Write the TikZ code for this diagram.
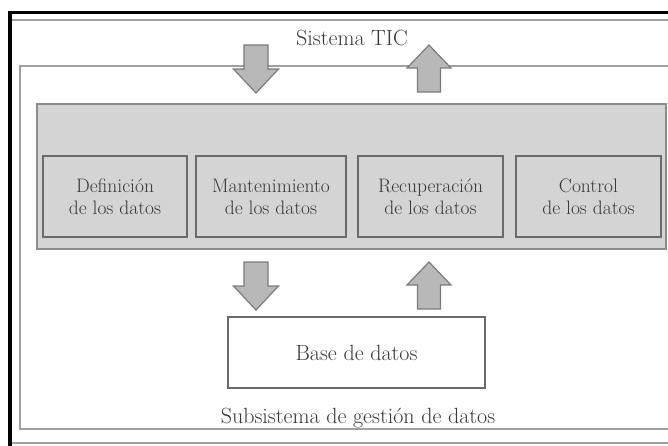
\documentclass[tikz,border=0pt]{standalone}
\usetikzlibrary{calc}
\definecolor{txt}{HTML}{383838}
\definecolor{boxfill}{HTML}{D4D4D4}
\definecolor{boxline}{HTML}{6A6A6A}
\definecolor{bigline}{HTML}{8C8C8C}
\definecolor{frameline}{HTML}{A0A0A0}
\definecolor{arrfill}{HTML}{B8B8B8}
\definecolor{arrline}{HTML}{7C7C7C}
\tikzset{
  funcbox/.style={draw=boxline, line width=1.6pt, fill=boxfill, minimum height=81pt, inner sep=0pt, align=center, text=txt, font=\fontsize{19.5}{22}\selectfont},
  arrowstyle/.style={draw=arrline, line width=1.2pt, fill=arrfill, line join=miter},
  downarr/.pic={\draw[arrowstyle] (-12,0) -- (12,0) -- (12,24) -- (22.5,24) -- (0,48) -- (-22.5,24) -- (-12,24) -- cycle;},
  uparr/.pic={\draw[arrowstyle] (0,0) -- (22,23) -- (11.5,23) -- (11.5,47) -- (-11.5,47) -- (-11.5,23) -- (-22,23) -- cycle;},
  label/.style={text=txt, font=\fontsize{22}{26}\selectfont, inner sep=0pt}
}
\begin{document}
\begin{tikzpicture}[x=1pt,y=-1pt]
\useasboundingbox (0,0) rectangle (668,445);
\clip (0,0) rectangle (668,445);
\fill[white] (0,0) rectangle (668,445);
% outer grey frame (Sistema TIC)
\draw[frameline, line width=1.8pt] (12,20) -- (700,20);
\draw[frameline, line width=1.8pt] (12,443) -- (700,443);
% black screenshot frame
\draw[black, line width=3.5pt, line join=miter] (10,470) -- (10,12.5) -- (700,12.5);
% subsystem frame
\draw[frameline, line width=1.8pt] (700,66) -- (20,66) -- (20,429) -- (700,429);
% processing block
\node[draw=bigline, line width=1.6pt, fill=boxfill, minimum width=629pt, minimum height=145pt, inner sep=0pt] (proc) at (351.5,176.5) {};
\node[funcbox, minimum width=144pt] (b1) at (115,196.5) {Definición\\de los datos};
\node[funcbox, minimum width=150pt] (b2) at (271,196.5) {Mantenimiento\\de los datos};
\node[funcbox, minimum width=145pt] (b3) at (430.5,196.5) {Recuperación\\de los datos};
\node[funcbox, minimum width=145pt] (b4) at (588.5,196.5) {Control\\de los datos};
% database
\node[draw=boxline, line width=1.4pt, fill=white, minimum width=257pt, minimum height=71pt, inner sep=0pt, text=txt, font=\fontsize{22}{26}\selectfont] (db) at (356.5,352.5) {\raisebox{-4pt}{Base de datos}};
% labels
\node[label, anchor=base] (sis) at (352,45) {Sistema TIC};
\node[label, anchor=base] (sub) at (358,423) {Subsistema de gestión de datos};
% block arrows
\pic at (256,45) {downarr};
\pic at (429,45) {uparr};
\pic at (256,262) {downarr};
\pic at (429,262) {uparr};
\end{tikzpicture}
\end{document}
